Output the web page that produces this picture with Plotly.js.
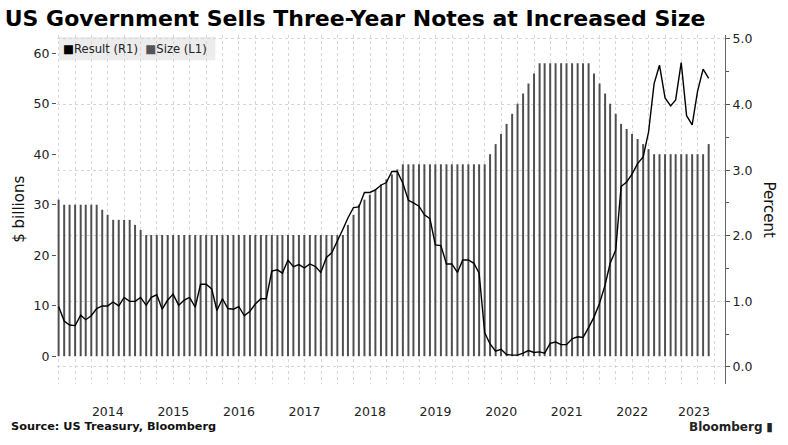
<!DOCTYPE html>
<html>
<head>
<meta charset="utf-8">
<script src="https://cdn.plot.ly/plotly-3.0.1.min.js"></script>
<style>
  html, body { margin: 0; padding: 0; background: #fff; }
  #graph { width: 788px; height: 445px; }
</style>
</head>
<body>
<div id="graph"></div>
<script>
// monthly auctions, Sep 2013 .. Aug 2023
var firstYear = 2013, firstMonth = 8; // 0-based month, September
var numMonths = 120;

// Size (L1), $ billions
var sizeValues = [
    31, 30, 30, 30, 30, 30, 30, 30, 29, 28, 27, 27, 27, 27, 26, 25,
    24, 24, 24, 24, 24, 24, 24, 24, 24, 24, 24, 24, 24, 24, 24, 24,
    24, 24, 24, 24, 24, 24, 24, 24, 24, 24, 24, 24, 24, 24, 24, 24,
    24, 24, 24, 24, 24, 26, 28, 30, 31, 32, 33, 34, 35, 36, 37, 38,
    38, 38, 38, 38, 38, 38, 38, 38, 38, 38, 38, 38, 38, 38, 38, 40,
    42, 44, 46, 48, 50, 52, 54, 56, 58, 58, 58, 58, 58, 58, 58, 58,
    58, 58, 56, 54, 52, 50, 48, 46, 45, 44, 43, 42, 41, 40, 40, 40,
    40, 40, 40, 40, 40, 40, 40, 42
];

// Result (R1), percent
var resultValues = [
    0.92, 0.70, 0.64, 0.63, 0.79, 0.72, 0.78, 0.89, 0.93, 0.93, 0.99, 0.93,
    1.06, 1.00, 1.00, 1.06, 0.94, 1.06, 1.10, 0.88, 1.02, 1.11, 0.94, 1.02,
    1.06, 0.91, 1.26, 1.26, 1.19, 0.86, 1.04, 0.89, 0.88, 0.92, 0.78, 0.85,
    0.96, 1.04, 1.04, 1.46, 1.48, 1.43, 1.63, 1.53, 1.56, 1.51, 1.57, 1.53,
    1.44, 1.67, 1.74, 1.91, 2.10, 2.27, 2.43, 2.44, 2.66, 2.66, 2.70, 2.77,
    2.81, 2.98, 2.98, 2.80, 2.54, 2.50, 2.45, 2.32, 2.26, 1.86, 1.85, 1.57,
    1.57, 1.44, 1.63, 1.63, 1.58, 1.43, 0.52, 0.35, 0.24, 0.27, 0.19, 0.18,
    0.18, 0.21, 0.25, 0.22, 0.23, 0.21, 0.36, 0.38, 0.34, 0.34, 0.43, 0.46,
    0.45, 0.60, 0.76, 0.97, 1.25, 1.58, 1.78, 2.75, 2.82, 2.94, 3.10, 3.20,
    3.58, 4.32, 4.60, 4.10, 3.98, 4.07, 4.64, 3.83, 3.69, 4.20, 4.54, 4.40
];

var yearLabels = ['2014', '2015', '2016', '2017', '2018', '2019', '2020', '2021', '2022', '2023'];
var yearLabelDates = ['2014-07-01', '2015-07-01', '2016-07-01', '2017-07-01', '2018-07-01',
                      '2019-07-01', '2020-07-01', '2021-07-01', '2022-07-01', '2023-06-10'];

// month-end dates for each auction month
var monthDates = [];
for (var i = 0; i < numMonths; i++) {
    var d = new Date(Date.UTC(firstYear, firstMonth + i + 1, 0));
    monthDates.push(d.toISOString().slice(0, 10));
}

var gridColor = '#d6d6d6';
var tickFont = {family: 'DejaVu Sans', size: 12.5, color: '#222'};

var sizeTrace = {
    x: monthDates,
    y: sizeValues,
    type: 'bar',
    name: 'Size (L1)',
    yaxis: 'y',
    width: 11 * 86400000,
    marker: {color: '#4f4f4f', line: {width: 0}},
    hoverinfo: 'skip'
};

var resultTrace = {
    x: monthDates,
    y: resultValues,
    type: 'scatter',
    mode: 'lines',
    name: 'Result (R1)',
    yaxis: 'y2',
    line: {color: '#000', width: 1.4},
    hoverinfo: 'skip'
};

var layout = {
    width: 788,
    height: 445,
    showlegend: false,
    paper_bgcolor: '#fff',
    plot_bgcolor: '#fff',
    margin: {l: 57, r: 63, t: 35, b: 61},
    title: {
        text: 'US Government Sells Three-Year Notes at Increased Size',
        font: {family: 'DejaVu Sans', size: 22, color: '#000', weight: 900},
        x: 0.006, xanchor: 'left',
        y: 0.958, yanchor: 'middle', yref: 'container'
    },
    xaxis: {
        type: 'date',
        range: ['2013-09-21', '2023-11-30'],
        tickmode: 'array',
        tickvals: yearLabelDates,
        ticktext: yearLabels,
        ticks: '',
        ticklabelstandoff: 18,
        showgrid: false,
        zeroline: false,
        showline: false,
        tickfont: tickFont,
        minor: {
            tickmode: 'linear',
            tick0: '2013-10-01',
            dtick: 'M3',
            showgrid: true,
            gridcolor: gridColor,
            griddash: 'dot',
            gridwidth: 1,
            ticks: ''
        }
    },
    yaxis: {
        range: [-5.5, 63.6],
        tickvals: [0, 10, 20, 30, 40, 50, 60],
        ticks: 'outside',
        ticklen: 4,
        tickcolor: '#555',
        showgrid: false,
        zeroline: false,
        showline: false,
        tickfont: tickFont
    },
    yaxis2: {
        overlaying: 'y',
        side: 'right',
        range: [-0.26, 5.06],
        tickvals: [0, 1, 2, 3, 4, 5],
        tickformat: '.1f',
        ticks: 'outside',
        ticklen: 4,
        tickcolor: '#555',
        showline: true,
        linecolor: '#666',
        linewidth: 1,
        showgrid: true,
        gridcolor: gridColor,
        griddash: 'dot',
        zeroline: false,
        tickfont: tickFont,
        minor: {
            tickmode: 'linear',
            tick0: 0.5,
            dtick: 1,
            ticks: 'outside',
            ticklen: 3,
            tickcolor: '#555',
            showgrid: false
        }
    },
    shapes: [{
        type: 'rect', xref: 'paper', yref: 'paper',
        x0: 0.003, x1: 0.237, y0: 0.928, y1: 0.994,
        fillcolor: '#ececec', line: {width: 0}, layer: 'below'
    }],
    annotations: [
        {
            text: '<span style="color:#000">■</span>Result (R1)  <span style="color:#555">■</span>Size (L1)',
            xref: 'paper', yref: 'paper', x: 0.006, y: 0.961,
            xanchor: 'left', yanchor: 'middle', showarrow: false,
            font: {family: 'DejaVu Sans', size: 11.6, color: '#222'}
        },
        {
            text: '$ billions',
            xref: 'paper', yref: 'paper', x: -0.058, y: 0.5,
            xanchor: 'center', yanchor: 'middle', textangle: -90, showarrow: false,
            font: {family: 'DejaVu Sans', size: 15, color: '#111'}
        },
        {
            text: 'Percent',
            xref: 'paper', yref: 'paper', x: 1.066, y: 0.5,
            xanchor: 'center', yanchor: 'middle', textangle: 90, showarrow: false,
            font: {family: 'DejaVu Sans', size: 15, color: '#111'}
        },
        {
            text: '<b>Source: US Treasury, Bloomberg</b>',
            xref: 'paper', yref: 'paper', x: -0.072, y: -0.122,
            xanchor: 'left', yanchor: 'middle', showarrow: false,
            font: {family: 'DejaVu Sans', size: 11.3, color: '#111'}
        },
        {
            text: '<b>Bloomberg</b> ▮',
            xref: 'paper', yref: 'paper', x: 1.075, y: -0.122,
            xanchor: 'right', yanchor: 'middle', showarrow: false,
            font: {family: 'DejaVu Sans', size: 12, color: '#222'}
        }
    ]
};

var graph = document.getElementById('graph');
Plotly.newPlot(graph, [sizeTrace, resultTrace], layout, {staticPlot: true});
</script>
</body>
</html>
